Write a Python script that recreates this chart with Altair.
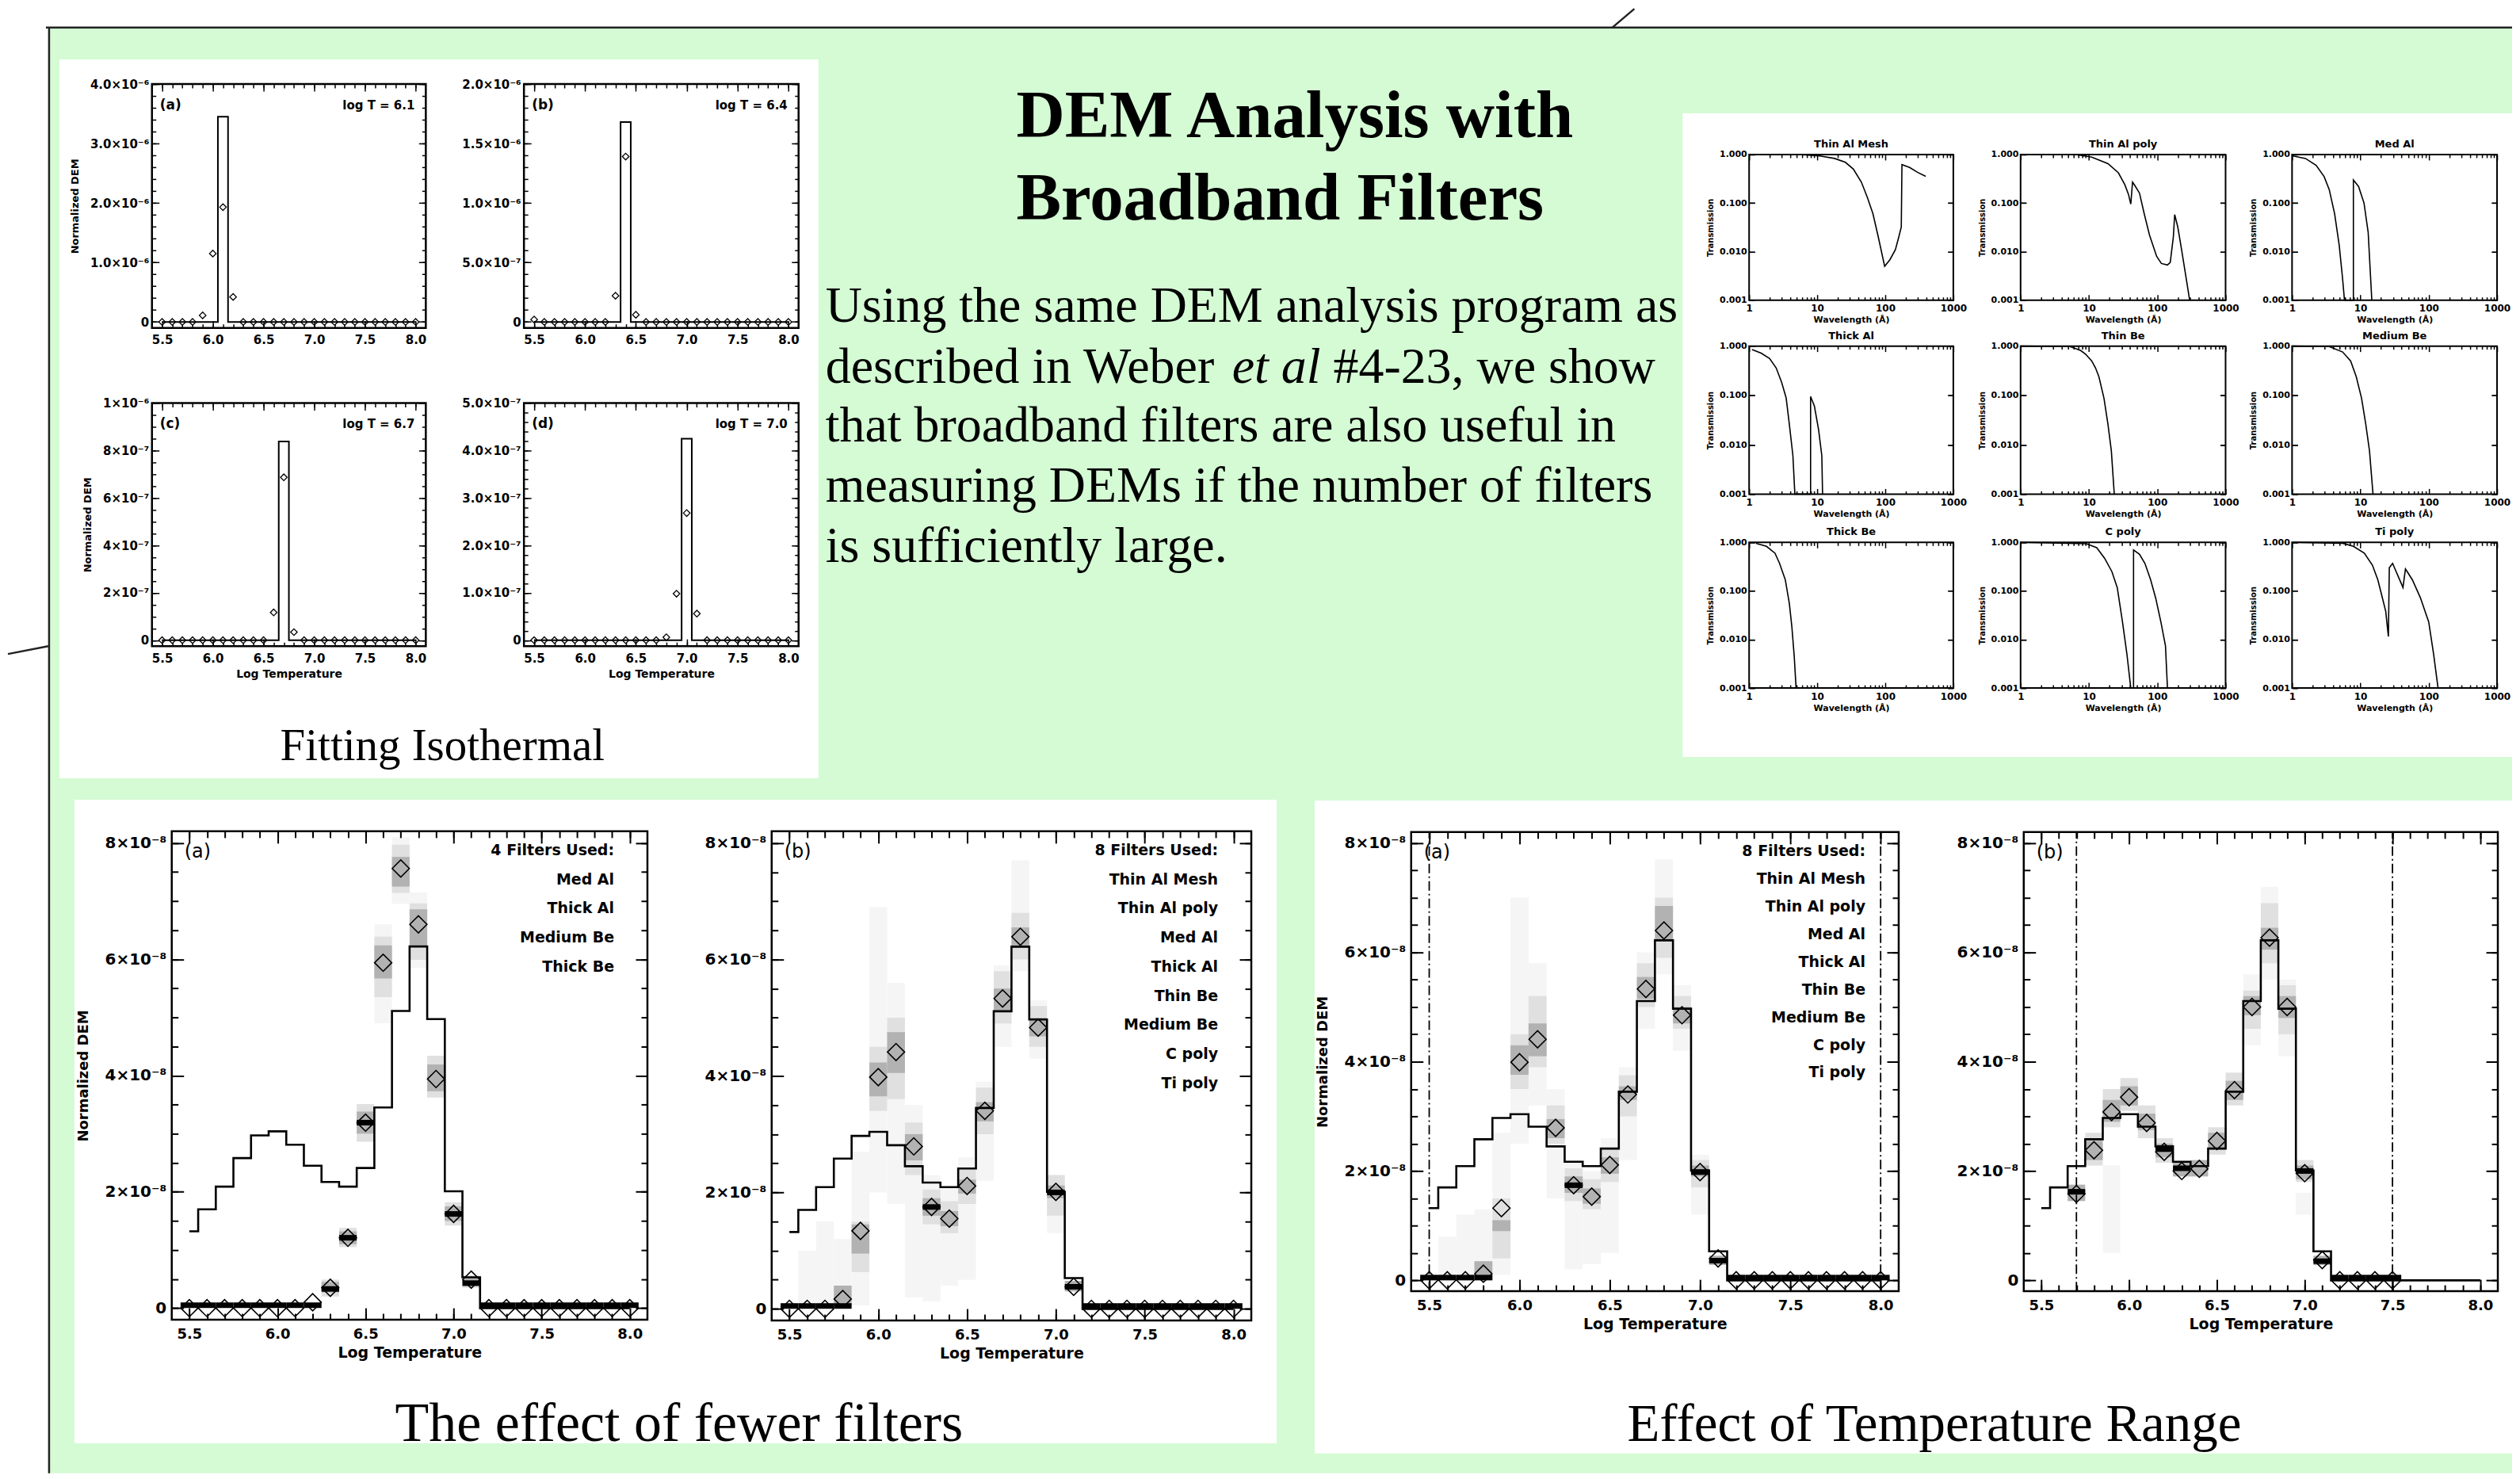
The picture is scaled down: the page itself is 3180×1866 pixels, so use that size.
import json
import altair as alt
import pandas as pd

W, H = 3164, 1850
GREEN = "#d4fbd4"
SANS = "DejaVu Sans"
SERIF = "Liberation Serif"
N = None

# ---------------- shared temperature bins ----------------
LOGT = [5.5, 5.6, 5.7, 5.8, 5.9, 6.0, 6.1, 6.2, 6.3, 6.4, 6.5, 6.6, 6.7, 6.8, 6.9,
        7.0, 7.1, 7.2, 7.3, 7.4, 7.5, 7.6, 7.7, 7.8, 7.9, 8.0]
XMAJ = [5.5, 6.0, 6.5, 7.0, 7.5, 8.0]

# ---------------- isothermal fits ----------------
ISO_A_TRUE = [0, 0, 0, 0, 0, 0, 3.45, 0, 0, 0, 0, 0, 0, 0, 0, 0, 0, 0, 0, 0, 0, 0, 0, 0, 0, 0]
ISO_A_DIAM = [0, 0, 0, 0, 0.11, 1.15, 1.93, 0.42, 0, 0, 0, 0, 0, 0, 0, 0, 0, 0, 0, 0, 0, 0, 0, 0, 0, 0]
ISO_B_TRUE = [0, 0, 0, 0, 0, 0, 0, 0, 0, 1.68, 0, 0, 0, 0, 0, 0, 0, 0, 0, 0, 0, 0, 0, 0, 0, 0]
ISO_B_DIAM = [0.02, 0, 0, 0, 0, 0, 0, 0, 0.22, 1.39, 0.06, 0, 0, 0, 0, 0, 0, 0, 0, 0, 0, 0, 0, 0, 0, 0]
ISO_C_TRUE = [0, 0, 0, 0, 0, 0, 0, 0, 0, 0, 0, 0, 8.38, 0, 0, 0, 0, 0, 0, 0, 0, 0, 0, 0, 0, 0]
ISO_C_DIAM = [0, 0, 0, 0, 0, 0, 0, 0, 0, 0, 0, 1.17, 6.87, 0.34, 0, 0, 0, 0, 0, 0, 0, 0, 0, 0, 0, 0]
ISO_D_TRUE = [0, 0, 0, 0, 0, 0, 0, 0, 0, 0, 0, 0, 0, 0, 0, 4.25, 0, 0, 0, 0, 0, 0, 0, 0, 0, 0]
ISO_D_DIAM = [0, 0, 0, 0, 0, 0, 0, 0, 0, 0, 0, 0, 0, 0.06, 0.98, 2.68, 0.56, 0, 0, 0, 0, 0, 0, 0, 0, 0]

ISO_A_YMAJ = [0, 1, 2, 3, 4]
ISO_A_YLAB = ["0", "1.0×10⁻⁶", "2.0×10⁻⁶", "3.0×10⁻⁶", "4.0×10⁻⁶"]
ISO_B_YMAJ = [0, 0.5, 1.0, 1.5, 2.0]
ISO_B_YLAB = ["0", "5.0×10⁻⁷", "1.0×10⁻⁶", "1.5×10⁻⁶", "2.0×10⁻⁶"]
ISO_C_YMAJ = [0, 2, 4, 6, 8, 10]
ISO_C_YLAB = ["0", "2×10⁻⁷", "4×10⁻⁷", "6×10⁻⁷", "8×10⁻⁷", "1×10⁻⁶"]
ISO_D_YMAJ = [0, 1, 2, 3, 4, 5]
ISO_D_YLAB = ["0", "1.0×10⁻⁷", "2.0×10⁻⁷", "3.0×10⁻⁷", "4.0×10⁻⁷", "5.0×10⁻⁷"]

# ---------------- multi-temperature DEM (units of 1e-8) ----------------
TRUE_DEM = [1.32, 1.70, 2.09, 2.58, 2.97, 3.04, 2.81, 2.45, 2.17, 2.09, 2.41, 3.45, 5.11,
            6.22, 4.97, 2.01, 0.53, 0, 0, 0, 0, 0, 0, 0, 0, 0]
DEM_YMAJ = [0, 2, 4, 6, 8]
DEM_YLAB = ["0", "2×10⁻⁸", "4×10⁻⁸", "6×10⁻⁸", "8×10⁻⁸"]
DEM_YMIN = [0, 0.5, 1, 1.5, 2, 2.5, 3, 3.5, 4, 4.5, 5, 5.5, 6, 6.5, 7, 7.5, 8]

# (a) 4 filters
FA_DIAMOND = [0, 0, 0, 0, 0, 0, 0, 0.10, 0.35, 1.21, 3.19, 5.94, 7.56, 6.60, 3.94, 1.62, 0.49,
              0, 0, 0, 0, 0, 0, 0, 0, 0]
FA_MEDIAN = [0.05, 0.05, 0.05, 0.05, 0.05, 0.05, 0.05, 0.05, 0.33, 1.21, 3.19, N, N, N, N, 1.62, 0.43,
             0.05, 0.05, 0.05, 0.05, 0.05, 0.05, 0.05, 0.05, 0.05]
FA_CORE_LO = [N, N, N, N, N, N, N, N, 0.27, 1.10, 3.00, 5.67, 7.25, 6.24, 3.73, 1.50, 0.38,
              N, N, N, N, N, N, N, N, N]
FA_CORE_HI = [N, N, N, N, N, N, N, N, 0.45, 1.32, 3.38, 6.24, 7.76, 6.86, 4.19, 1.75, 0.52,
              N, N, N, N, N, N, N, N, N]
FA_OUT_LO = [N, N, N, N, N, N, N, N, 0.20, 1.05, 2.86, 5.35, 7.14, 5.99, 3.62, 1.42, 0.35,
             N, N, N, N, N, N, N, N, N]
FA_OUT_HI = [N, N, N, N, N, N, N, N, 0.49, 1.38, 3.51, 6.39, 7.97, 6.96, 4.34, 1.82, 0.56,
             N, N, N, N, N, N, N, N, N]
FA_FAINT_LO = [N, N, N, N, N, N, N, N, N, N, N, 4.90, 6.95, 5.85, N, N, N, N, N, N, N, N, N, N, N, N]
FA_FAINT_HI = [N, N, N, N, N, N, N, N, N, N, N, 6.60, 8.10, 7.15, N, N, N, N, N, N, N, N, N, N, N, N]
FA_LEGEND = ["4 Filters Used:", "Med Al", "Thick Al", "Medium Be", "Thick Be"]

# (b) 8 filters
FB_DIAMOND = [0, 0, 0, 0.17, 1.34, 3.98, 4.41, 2.79, 1.75, 1.55, 2.11, 3.40, 5.33, 6.39, 4.83, 2.01, 0.38,
              0, 0, 0, 0, 0, 0, 0, 0, 0]
FB_MEDIAN = [0.05, 0.05, 0.05, 0.05, N, N, N, N, 1.75, N, N, N, N, N, N, 2.00, 0.38,
             0.05, 0.05, 0.05, 0.05, 0.05, 0.05, 0.05, 0.05, 0.05]
FB_CORE_LO = [N, N, N, 0.05, 0.95, 3.65, 4.05, 2.55, 1.60, 1.42, 1.98, 3.22, 5.10, 6.20, 4.68, 1.90, 0.30,
              N, N, N, N, N, N, N, N, N]
FB_CORE_HI = [N, N, N, 0.40, 1.45, 4.23, 4.75, 3.00, 1.90, 1.68, 2.22, 3.55, 5.50, 6.55, 5.00, 2.12, 0.48,
              N, N, N, N, N, N, N, N, N]
FB_OUT_LO = [N, N, N, N, 0.63, 3.40, 3.60, 2.30, 1.45, 1.30, 1.80, 3.00, 4.90, 6.00, 4.50, 1.60,
             N, N, N, N, N, N, N, N, N, N]
FB_OUT_HI = [N, N, N, N, 1.50, 4.50, 5.00, 3.20, 2.05, 1.85, 2.40, 3.80, 5.80, 6.80, 5.20, 2.30,
             N, N, N, N, N, N, N, N, N, N]
FB_FAINT_LO = [N, 0.10, 0.05, 0.05, 0.06, 2.00, 1.80, 0.20, 0.13, 0.40, 0.50, 2.20, 4.50, 5.80, 4.30, 1.30,
               N, N, N, N, N, N, N, N, N, N]
FB_FAINT_HI = [N, 1.00, 1.50, 1.20, 2.70, 6.90, 5.60, 3.50, 2.30, 2.10, 2.60, 3.90, 5.90, 7.70, 5.30, 2.30,
               N, N, N, N, N, N, N, N, N, N]
FB_LEGEND = ["8 Filters Used:", "Thin Al Mesh", "Thin Al poly", "Med Al", "Thick Al",
             "Thin Be", "Medium Be", "C poly", "Ti poly"]

# temperature range (a): 5.5 - 8.0
RA_DIAMOND = [0, 0, 0, 0.12, 1.32, 3.99, 4.41, 2.79, 1.74, 1.53, 2.11, 3.40, 5.33, 6.40, 4.85, 1.98, 0.40,
              0, 0, 0, 0, 0, 0, 0, 0, 0]
RA_MEDIAN = [0.05, 0.05, 0.05, 0.05, N, N, N, N, 1.74, N, N, N, N, N, N, 1.98, 0.36,
             0.05, 0.05, 0.05, 0.05, 0.05, 0.05, 0.05, 0.05, 0.05]
RA_CORE_LO = [N, N, N, 0.05, 0.90, 3.76, 4.10, 2.60, 1.60, 1.40, 1.95, 3.30, 5.15, 6.20, 4.70, 1.90, 0.28,
              N, N, N, N, N, N, N, N, N]
RA_CORE_HI = [N, N, N, 0.35, 1.10, 4.30, 4.70, 2.95, 1.90, 1.68, 2.25, 3.55, 5.55, 6.85, 5.00, 2.10, 0.45,
              N, N, N, N, N, N, N, N, N]
RA_OUT_LO = [N, N, N, N, 0.40, 3.50, 3.90, 2.50, 1.45, 1.30, 1.80, 3.00, 5.00, 5.90, 4.60, 1.70,
             N, N, N, N, N, N, N, N, N, N]
RA_OUT_HI = [N, N, N, N, 1.50, 4.50, 5.20, 3.20, 2.05, 1.85, 2.40, 3.75, 5.80, 7.00, 5.20, 2.20,
             N, N, N, N, N, N, N, N, N, N]
RA_FAINT_LO = [N, 0.05, 0.05, 0.05, 0.10, 2.50, 3.20, 1.50, 0.20, 0.30, 0.50, 2.20, 4.60, 5.60, 4.20, 1.20,
               N, N, N, N, N, N, N, N, N, N]
RA_FAINT_HI = [N, 0.80, 1.20, 1.30, 2.70, 7.00, 5.80, 3.50, 2.20, 2.00, 2.60, 3.90, 6.00, 7.70, 5.40, 2.30,
               N, N, N, N, N, N, N, N, N, N]

# temperature range (b): 5.7 - 7.5
RB_DIAMOND = [N, N, 1.58, 2.38, 3.08, 3.35, 2.88, 2.35, 2.00, 2.04, 2.55, 3.48, 5.00, 6.27, 5.00, 1.96, 0.37,
              0, 0, 0, 0, N, N, N, N, N]
RB_MEDIAN = [N, N, 1.62, N, N, N, N, 2.40, 2.05, N, N, N, N, N, N, 2.00, 0.35,
             0.05, 0.05, 0.05, 0.05, N, N, N, N, N]
RB_CORE_LO = [N, N, 1.45, 2.20, 2.90, 3.20, 2.75, 2.25, 1.90, 1.90, 2.40, 3.30, 4.85, 6.05, 4.80, 1.85, 0.28,
              N, N, N, N, N, N, N, N, N]
RB_CORE_HI = [N, N, 1.75, 2.55, 3.30, 3.55, 3.05, 2.50, 2.15, 2.20, 2.70, 3.65, 5.20, 6.45, 5.20, 2.10, 0.45,
              N, N, N, N, N, N, N, N, N]
RB_OUT_LO = [N, N, N, 2.10, 2.80, 3.10, 2.60, 2.15, N, N, 2.30, 3.20, 4.60, 5.80, 4.50, 1.80,
             N, N, N, N, N, N, N, N, N, N]
RB_OUT_HI = [N, N, N, 2.70, 3.50, 3.70, 3.20, 2.60, N, N, 2.80, 3.80, 5.30, 6.90, 5.40, 2.20,
             N, N, N, N, N, N, N, N, N, N]
RB_FAINT_LO = [N, N, N, N, 0.50, N, N, N, N, N, N, N, 4.30, 5.50, 4.10, 1.20,
               N, N, N, N, N, N, N, N, N, N]
RB_FAINT_HI = [N, N, N, N, 2.10, N, N, N, N, N, N, N, 5.60, 7.20, 5.50, 1.60,
               N, N, N, N, N, N, N, N, N, N]
RA_VLINES = [5.5, 8.0]
RB_VLINES = [5.7, 7.5]

# ---------------- filter transmission curves ----------------
FILTER_NAMES = ["Thin Al Mesh", "Thin Al poly", "Med Al", "Thick Al", "Thin Be", "Medium Be",
                "Thick Be", "C poly", "Ti poly"]
THIN_AL_MESH_W = [1, 4, 6.1, 10.5, 18, 26, 34, 44.6, 55, 66, 79, 98, 117, 141, 158, 172, 176, 228, 298, 393]
THIN_AL_MESH_T = [1.0, 1.0, 0.99, 0.94, 0.83, 0.69, 0.50, 0.27, 0.127, 0.06, 0.02, 0.005, 0.0068, 0.011,
                  0.02, 0.032, 0.62, 0.54, 0.43, 0.355]
THIN_AL_POLY_W = [1, 6.4, 11, 19, 27, 33.5, 38, 41, 43.5, 47, 55, 64.5, 77, 98, 115, 141, 155, 172, 180,
                  200, 227, 270, 298]
THIN_AL_POLY_T = [1.0, 1.0, 0.88, 0.65, 0.42, 0.24, 0.15, 0.095, 0.27, 0.23, 0.16, 0.06, 0.022, 0.008,
                  0.0057, 0.0053, 0.006, 0.02, 0.058, 0.032, 0.011, 0.0024, 0.001]
MED_AL_W = [1, 1.57, 2.25, 2.95, 3.5, 4.2, 4.9, 5.5, 5.85, 7.9, 7.9, 9.4, 11.3, 13, 14.7]
MED_AL_T = [0.94, 0.83, 0.6, 0.35, 0.19, 0.06, 0.0135, 0.0027, 0.001, 0.001, 0.3, 0.22, 0.1, 0.025, 0.001]
THICK_AL_W = [1.1, 1.5, 2, 2.5, 3.0, 3.5, 3.9, 4.4, 4.7, 8, 8, 9.1, 10.5, 11.7, 12]
THICK_AL_T = [0.85, 0.72, 0.56, 0.36, 0.185, 0.089, 0.026, 0.006, 0.001, 0.001, 0.095, 0.061, 0.02,
              0.006, 0.001]
THIN_BE_W = [1, 5.3, 7.6, 9, 11, 12.5, 14, 16.6, 19, 21.3, 23.5]
THIN_BE_T = [1.0, 0.98, 0.81, 0.68, 0.5, 0.36, 0.24, 0.088, 0.026, 0.0075, 0.001]
MEDIUM_BE_W = [1, 3.5, 5.5, 7.2, 8.7, 10.4, 12, 13.6, 15.3]
MEDIUM_BE_T = [1.0, 0.98, 0.76, 0.5, 0.24, 0.088, 0.026, 0.0075, 0.001]
THICK_BE_W = [1.26, 1.8, 2.4, 2.8, 3.4, 3.9, 4.25, 4.6, 4.9]
THICK_BE_T = [0.96, 0.83, 0.6, 0.37, 0.17, 0.055, 0.018, 0.0045, 0.001]
C_POLY_W = [1, 9.2, 13, 17, 21.7, 26, 31, 36, 41, 45, 45, 55, 66, 80, 95, 113, 132, 141]
C_POLY_T = [1.0, 0.94, 0.78, 0.47, 0.25, 0.117, 0.023, 0.005, 0.001, 0.001, 0.7, 0.57, 0.37, 0.17,
            0.071, 0.023, 0.0074, 0.001]
TI_POLY_W = [1, 5.5, 7.9, 11.4, 15, 18, 20.6, 23.5, 25.7, 26.5, 29.6, 42, 45.7, 57.6, 75.7, 100, 118, 137]
TI_POLY_T = [1.0, 0.96, 0.83, 0.6, 0.34, 0.17, 0.08, 0.038, 0.0115, 0.3, 0.37, 0.118, 0.285, 0.17,
             0.072, 0.023, 0.005, 0.001]
F_XMAJ = [1, 10, 100, 1000]
F_XMIN = [2, 3, 4, 5, 6, 7, 8, 9, 20, 30, 40, 50, 60, 70, 80, 90, 200, 300, 400, 500, 600, 700, 800, 900]
F_YMAJ = [0.001, 0.01, 0.1, 1.0]

# ---------------- text ----------------
TITLE_LINES = ["DEM Analysis with", "Broadband Filters"]
PARA_LINES = ["Using the same DEM analysis program as", None, "that broadband filters are also useful in",
              "measuring DEMs if the number of filters", "is sufficiently large."]
PARA_LINE2 = ["described in Weber", "et al", "#4-23, we show"]
CAPTIONS = ["Fitting Isothermal", "The effect of fewer filters", "Effect of Temperature Range"]

# ---------------- layout (plot-area pixel boxes: x0, y0, x1, y1) ----------------
ISO_BOX = [(182, 95, 528, 403), (652, 95, 999, 403), (182, 498, 528, 805), (652, 498, 999, 805)]
FIL_COLS = [(2200, 2458), (2543, 2802), (2886, 3145)]
FIL_ROWS = [(184, 368), (426, 613), (674, 858)]
DEM_BOX = [(207, 1039, 808, 1656), (965, 1039, 1571, 1657), (1773, 1040, 2389, 1620), (2547, 1040, 3146, 1620)]
WHITE_BOXES = [(65, 64, 1024, 972), (2116, 132, 3164, 945), (84, 999, 1603, 1812), (1651, 1000, 3164, 1825)]
POSTER = (52, 23.7, W, H)


def lexpr(vals, labels):
    return "%s[indexof(%s, datum.value)]" % (json.dumps(labels, ensure_ascii=False), json.dumps(vals))


def ax(orient, vals, L, edge, tw=1.5, labels=False, expr=None, fmt=None, fs=14, pad=4,
       title=None, tfs=14, tpad=6, lw="normal", tw8="normal"):
    if orient in ("left", "top"):
        off = -(edge + L)
    elif orient == "right":
        off = edge - L - W
    else:
        off = edge - L - H
    kw = dict(orient=orient, values=vals, tickSize=L, offset=off, domain=False, grid=False,
              ticks=True, tickColor="black", tickWidth=tw, labels=labels, zindex=1)
    if labels:
        kw.update(labelFont=SANS, labelFontSize=fs, labelColor="black", labelPadding=pad,
                  labelFlush=False, labelOverlap=False, labelFontWeight=lw)
        if expr:
            kw["labelExpr"] = expr
        if fmt:
            kw["format"] = fmt
    if title:
        kw.update(title=title, titleFont=SANS, titleFontSize=tfs, titleFontWeight=tw8,
                  titleColor="black", titlePadding=tpad)
    else:
        kw["title"] = None
    return alt.Axis(**kw)


def carriers(xs, ys, xdom, ydom, axes):
    d = pd.DataFrame({"cx": xdom, "cy": ydom})
    return [alt.Chart(d).mark_point(opacity=0).encode(
        x=alt.X("cx:Q", scale=xs, axis=xa), y=alt.Y("cy:Q", scale=ys, axis=ya)) for xa, ya in axes]


def frame(xs, ys, xdom, ydom, sw):
    d = pd.DataFrame({"fx": [xdom[0]], "fx2": [xdom[1]], "fy": [ydom[0]], "fy2": [ydom[1]]})
    return alt.Chart(d).mark_rect(filled=False, color="black", strokeWidth=sw).encode(
        x=alt.X("fx:Q", scale=xs, axis=None), x2="fx2:Q",
        y=alt.Y("fy:Q", scale=ys, axis=None), y2="fy2:Q")


ONE = pd.DataFrame({"k": [0]})


def label(x, y, text, size, align="left", baseline="top", font=SANS, weight="normal",
          style="normal", lh=None):
    kw = dict(align=align, baseline=baseline, font=font, fontSize=size, fontWeight=weight,
              fontStyle=style, color="black")
    if lh:
        kw["lineHeight"] = lh
    return alt.Chart(ONE).mark_text(**kw).encode(
        x=alt.value(x), y=alt.value(y), text=alt.value(text))


def iso_panel(box, ydom, ymaj, ylab, true_v, diam, tag, logt, ytitle, xtitle, yminor):
    x0, y0, x1, y1 = box
    xdom = [5.4, 8.1]
    xs = alt.Scale(domain=xdom, range=[x0, x1], nice=False, zero=False)
    ys = alt.Scale(domain=ydom, range=[y1, y0], nice=False, zero=False)
    L, l = 9, 5
    axes = [
        (ax("bottom", XMAJ, L, y1, labels=True, fmt=".1f", fs=15, pad=8, title=xtitle, tfs=14, tpad=5,
            lw="bold", tw8="bold"),
         ax("left", ymaj, L, x0, labels=True, expr=lexpr(ymaj, ylab), fs=15, pad=4, title=ytitle,
            tfs=13, tpad=12, lw="bold", tw8="bold")),
        (ax("bottom", LOGT, l, y1), ax("left", yminor, l, x0)),
        (ax("top", XMAJ, L, y0), ax("right", ymaj, L, x1)),
        (ax("top", LOGT, l, y0), ax("right", yminor, l, x1)),
    ]
    layers = carriers(xs, ys, xdom, ydom, axes)
    df = pd.DataFrame({"t": LOGT, "v": true_v, "d": diam, "i": list(range(len(LOGT)))})
    layers.append(alt.Chart(df).mark_line(interpolate="step", color="black", strokeWidth=2).encode(
        x=alt.X("t:Q", scale=xs, axis=None), y=alt.Y("v:Q", scale=ys, axis=None), order="i:Q"))
    layers.append(alt.Chart(df).mark_point(shape="diamond", filled=False, size=70, color="black",
                                           strokeWidth=1.3, opacity=1).encode(
        x=alt.X("t:Q", scale=xs, axis=None), y=alt.Y("d:Q", scale=ys, axis=None)))
    layers.append(frame(xs, ys, xdom, ydom, 2.5))
    layers.append(label(x0 + 10, y0 + 19, tag, 17, weight="bold"))
    layers.append(label(x1 - 14, y0 + 20, logt, 15, align="right", weight="bold"))
    return alt.layer(*layers).resolve_axis(x="independent", y="independent")


def dem_panel(box, diam, med, clo, chi, olo, ohi, flo, fhi, tag, legend, lsp, ytitle, vlines):
    x0, y0, x1, y1 = box
    xdom, ydom = [5.4, 8.1], [-0.2, 8.2]
    xs = alt.Scale(domain=xdom, range=[x0, x1], nice=False, zero=False)
    ys = alt.Scale(domain=ydom, range=[y1, y0], nice=False, zero=False)
    L, l = 15, 8
    axes = [
        (ax("bottom", XMAJ, L, y1, tw=2, labels=True, fmt=".1f", fs=18, pad=9,
            title="Log Temperature", tfs=19, tpad=5, lw="bold", tw8="bold"),
         ax("left", DEM_YMAJ, L, x0, tw=2, labels=True, expr=lexpr(DEM_YMAJ, DEM_YLAB), fs=20, pad=7,
            title=ytitle, tfs=18, tpad=18, lw="bold", tw8="bold")),
        (ax("bottom", LOGT, l, y1, tw=2), ax("left", DEM_YMIN, l, x0, tw=2)),
        (ax("top", XMAJ, L, y0, tw=2), ax("right", DEM_YMAJ, L, x1, tw=2)),
        (ax("top", LOGT, l, y0, tw=2), ax("right", DEM_YMIN, l, x1, tw=2)),
    ]
    layers = carriers(xs, ys, xdom, ydom, axes)
    df = pd.DataFrame({"t": LOGT, "v": TRUE_DEM, "d": diam, "med": med, "clo": clo, "chi": chi,
                       "olo": olo, "ohi": ohi, "flo": flo, "fhi": fhi,
                       "i": list(range(len(LOGT)))})
    df["xa"] = df["t"] - 0.05
    df["xb"] = df["t"] + 0.05
    for lo, hi, col in (("flo", "fhi", "#f5f5f5"), ("olo", "ohi", "#e0e0e0"), ("clo", "chi", "#b2b2b2")):
        sub = df.dropna(subset=[lo, hi])
        layers.append(alt.Chart(sub).mark_rect(color=col).encode(
            x=alt.X("xa:Q", scale=xs, axis=None), x2="xb:Q",
            y=alt.Y(lo + ":Q", scale=ys, axis=None), y2=hi + ":Q"))
    layers.append(alt.Chart(df.dropna(subset=["med"])).mark_rule(color="black", strokeWidth=7,
                                                                  strokeCap="butt").encode(
        x=alt.X("xa:Q", scale=xs, axis=None), x2="xb:Q", y=alt.Y("med:Q", scale=ys, axis=None)))
    if vlines:
        vd = pd.DataFrame({"vx": vlines, "vy": [ydom[0]] * len(vlines), "vy2": [ydom[1]] * len(vlines)})
        layers.append(alt.Chart(vd).mark_rule(color="black", strokeWidth=1.8,
                                              strokeDash=[12, 4, 2, 4]).encode(
            x=alt.X("vx:Q", scale=xs, axis=None), y=alt.Y("vy:Q", scale=ys, axis=None), y2="vy2:Q"))
    layers.append(alt.Chart(df).mark_line(interpolate="step", color="black", strokeWidth=2.6).encode(
        x=alt.X("t:Q", scale=xs, axis=None), y=alt.Y("v:Q", scale=ys, axis=None), order="i:Q"))
    layers.append(alt.Chart(df.dropna(subset=["d"])).mark_point(
        shape="diamond", filled=False, size=470, color="black", strokeWidth=1.6, opacity=1).encode(
        x=alt.X("t:Q", scale=xs, axis=None), y=alt.Y("d:Q", scale=ys, axis=None)))
    layers.append(frame(xs, ys, xdom, ydom, 2.5))
    layers.append(label(x0 + 16, y0 + 14, tag, 24))
    if legend:
        layers.append(label(x1 - 42, y0 + 15, legend, 19, align="right", lh=lsp, weight="bold"))
    return alt.layer(*layers).resolve_axis(x="independent", y="independent")


def filter_panel(box, name, wl, tr):
    x0, y0, x1, y1 = box
    xdom, ydom = [1, 1000], [0.001, 1.0]
    xs = alt.Scale(type="log", domain=xdom, range=[x0, x1], nice=False)
    ys = alt.Scale(type="log", domain=ydom, range=[y1, y0], nice=False)
    L, l = 7, 4
    axes = [
        (ax("bottom", F_XMAJ, L, y1, labels=True, fmt="d", fs=12, pad=5, title="Wavelength (Å)",
            tfs=11, tpad=3, lw="bold", tw8="bold"),
         ax("left", F_YMAJ, L, x0, labels=True, fmt=".3f", fs=11, pad=3, title="Transmission",
            tfs=10, tpad=6, lw="bold", tw8="bold")),
        (ax("bottom", F_XMIN, l, y1), ax("right", F_YMAJ, L, x1)),
        (ax("top", F_XMAJ, L, y0), ax("right", F_YMAJ, L, x1)),
        (ax("top", F_XMIN, l, y0), ax("left", F_YMAJ, L, x0)),
    ]
    layers = carriers(xs, ys, xdom, ydom, axes)
    df = pd.DataFrame({"w": wl, "tr": tr, "i": list(range(len(wl)))})
    layers.append(alt.Chart(df).mark_line(color="black", strokeWidth=1.6, clip=True).encode(
        x=alt.X("w:Q", scale=xs, axis=None), y=alt.Y("tr:Q", scale=ys, axis=None), order="i:Q"))
    layers.append(frame(xs, ys, xdom, ydom, 2))
    layers.append(label((x0 + x1) / 2, y0 - 6, name, 13, align="center", baseline="bottom", weight="bold"))
    return alt.layer(*layers).resolve_axis(x="independent", y="independent")


# ---------------- decorations (poster background) ----------------
rects = [dict(x=POSTER[0], x2=POSTER[2], y=POSTER[1], y2=POSTER[3], c=GREEN)]
for bx0, by0, bx1, by1 in WHITE_BOXES:
    rects.append(dict(x=bx0, x2=bx1, y=by0, y2=by1, c="white"))
decor_rects = alt.Chart(pd.DataFrame(rects)).mark_rect().encode(
    x=alt.X("x:Q", scale=None, axis=None), x2="x2:Q",
    y=alt.Y("y:Q", scale=None, axis=None), y2="y2:Q",
    color=alt.Color("c:N", scale=None, legend=None))
lines = [dict(x=48, x2=W, y=23.7, y2=23.7), dict(x=52, x2=52, y=23.7, y2=H),
         dict(x=2027, x2=2055, y=23.7, y2=0), dict(x=0, x2=51, y=815, y2=805)]
decor_lines = alt.Chart(pd.DataFrame(lines)).mark_rule(color="#222222", strokeWidth=2.5).encode(
    x=alt.X("x:Q", scale=None, axis=None), x2="x2:Q",
    y=alt.Y("y:Q", scale=None, axis=None), y2="y2:Q")

panels = []
iso_specs = [
    (ISO_BOX[0], [-0.1, 4.0], ISO_A_YMAJ, ISO_A_YLAB, ISO_A_TRUE, ISO_A_DIAM, "(a)", "log T = 6.1",
     "Normalized DEM", None, [round(0.2 * k, 1) for k in range(21)]),
    (ISO_BOX[1], [-0.05, 2.0], ISO_B_YMAJ, ISO_B_YLAB, ISO_B_TRUE, ISO_B_DIAM, "(b)", "log T = 6.4",
     None, None, [round(0.1 * k, 1) for k in range(21)]),
    (ISO_BOX[2], [-0.25, 10.0], ISO_C_YMAJ, ISO_C_YLAB, ISO_C_TRUE, ISO_C_DIAM, "(c)", "log T = 6.7",
     "Normalized DEM", "Log Temperature", [round(0.5 * k, 1) for k in range(21)]),
    (ISO_BOX[3], [-0.125, 5.0], ISO_D_YMAJ, ISO_D_YLAB, ISO_D_TRUE, ISO_D_DIAM, "(d)", "log T = 7.0",
     None, "Log Temperature", [round(0.2 * k, 1) for k in range(26)]),
]
for s in iso_specs:
    panels.append(iso_panel(*s))

filters = [(THIN_AL_MESH_W, THIN_AL_MESH_T), (THIN_AL_POLY_W, THIN_AL_POLY_T), (MED_AL_W, MED_AL_T),
           (THICK_AL_W, THICK_AL_T), (THIN_BE_W, THIN_BE_T), (MEDIUM_BE_W, MEDIUM_BE_T),
           (THICK_BE_W, THICK_BE_T), (C_POLY_W, C_POLY_T), (TI_POLY_W, TI_POLY_T)]
for k, (wl, tr) in enumerate(filters):
    r, c = divmod(k, 3)
    box = (FIL_COLS[c][0], FIL_ROWS[r][0], FIL_COLS[c][1], FIL_ROWS[r][1])
    panels.append(filter_panel(box, FILTER_NAMES[k], wl, tr))

panels.append(dem_panel(DEM_BOX[0], FA_DIAMOND, FA_MEDIAN, FA_CORE_LO, FA_CORE_HI, FA_OUT_LO, FA_OUT_HI,
                        FA_FAINT_LO, FA_FAINT_HI, "(a)", FA_LEGEND, 36.8, "Normalized DEM", None))
panels.append(dem_panel(DEM_BOX[1], FB_DIAMOND, FB_MEDIAN, FB_CORE_LO, FB_CORE_HI, FB_OUT_LO, FB_OUT_HI,
                        FB_FAINT_LO, FB_FAINT_HI, "(b)", FB_LEGEND, 36.8, None, None))
panels.append(dem_panel(DEM_BOX[2], RA_DIAMOND, RA_MEDIAN, RA_CORE_LO, RA_CORE_HI, RA_OUT_LO, RA_OUT_HI,
                        RA_FAINT_LO, RA_FAINT_HI, "(a)", FB_LEGEND, 35, "Normalized DEM", RA_VLINES))
panels.append(dem_panel(DEM_BOX[3], RB_DIAMOND, RB_MEDIAN, RB_CORE_LO, RB_CORE_HI, RB_OUT_LO, RB_OUT_HI,
                        RB_FAINT_LO, RB_FAINT_HI, "(b)", None, 35, None, RB_VLINES))

# ---------------- poster text ----------------
texts = []
TX = 1274
texts.append(label(TX, 162, TITLE_LINES[0], 85, align="left", baseline="alphabetic", font=SERIF,
                   weight="bold"))
texts.append(label(TX, 266, TITLE_LINES[1], 85, align="left", baseline="alphabetic", font=SERIF,
                   weight="bold"))
PFS = 64
PX = 1033
para_y = [395, 472, 547, 623, 699]
for k, line in enumerate(PARA_LINES):
    if line:
        texts.append(label(PX, para_y[k], line, PFS, baseline="alphabetic", font=SERIF))
texts.append(label(PX, para_y[1], PARA_LINE2[0], PFS, baseline="alphabetic", font=SERIF))
texts.append(label(PX + 8.025 * PFS, para_y[1], PARA_LINE2[1], PFS, baseline="alphabetic", font=SERIF,
                   style="italic"))
texts.append(label(PX + 10.025 * PFS, para_y[1], PARA_LINE2[2], PFS, baseline="alphabetic", font=SERIF))
texts.append(label(549, 949, CAPTIONS[0], 57, align="center", baseline="alphabetic", font=SERIF))
texts.append(label(848, 1809, CAPTIONS[1], 70, align="center", baseline="alphabetic", font=SERIF))
texts.append(label(2434, 1809, CAPTIONS[2], 67, align="center", baseline="alphabetic", font=SERIF))

chart = alt.layer(decor_rects, decor_lines, *panels, *texts).resolve_scale(
    x="independent", y="independent").resolve_axis(x="independent", y="independent").properties(
    width=W, height=H, background="white", padding=0).configure_view(strokeWidth=0)

chart.save("out.html", embed_options={"renderer": "svg", "actions": False})
